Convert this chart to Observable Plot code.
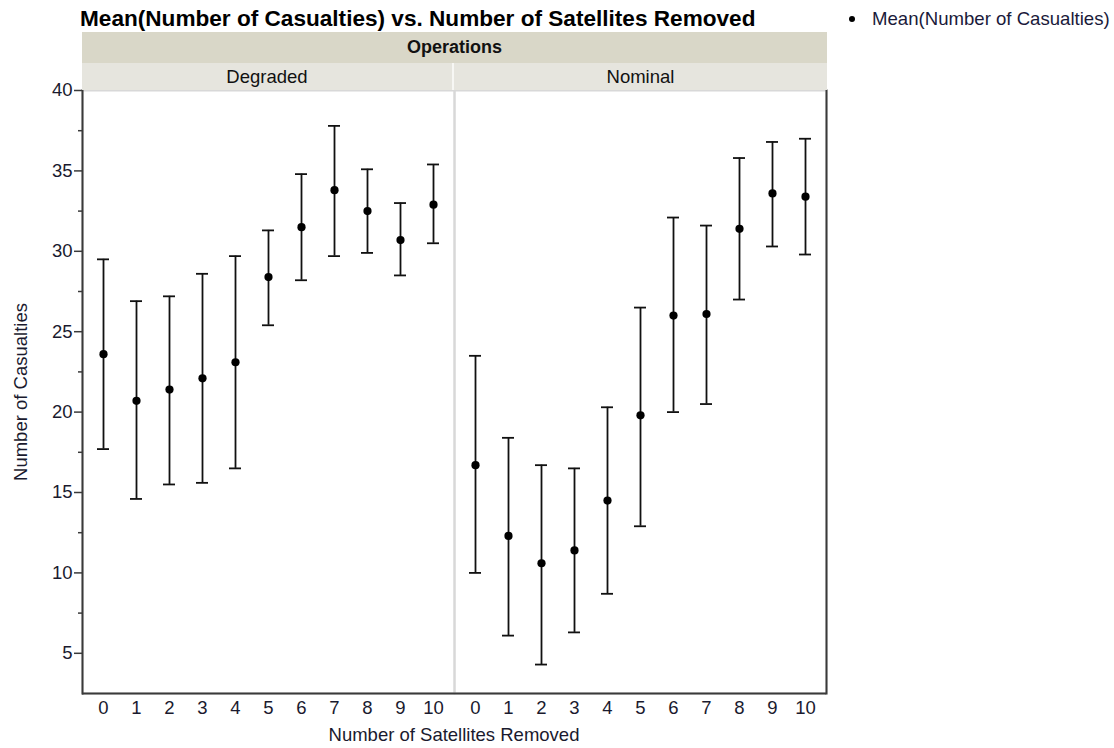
<!DOCTYPE html>
<html>
<head>
<meta charset="utf-8">
<script src="https://cdn.jsdelivr.net/npm/d3@7"></script>
<script src="https://cdn.jsdelivr.net/npm/@observablehq/plot@0.6"></script>
<style>
  html, body { margin: 0; padding: 0; background: #fff; }
  #wrap { position: relative; width: 1114px; height: 748px; overflow: hidden; font-family: "Liberation Sans", Arial, sans-serif; }
  #chart { position: absolute; left: 0; top: 0; }
  .title { position: absolute; left: 80px; top: 7px; font-size: 22.6px; line-height: 23px; font-weight: bold; color: #000; white-space: nowrap; }
  .hdr { position: absolute; text-align: center; color: #111; white-space: nowrap; box-sizing: border-box; }
  .legend { position: absolute; left: 849px; top: 9px; font-size: 18.6px; line-height: 20px; color: #1a1a3a; white-space: nowrap; }
  .legend .dot { display: inline-block; width: 6px; height: 6px; border-radius: 50%; background: #000; margin-right: 17px; vertical-align: middle; position: relative; top: -1px; }
</style>
</head>
<body>
<div id="wrap">
  <div id="chart"></div>
  <div class="title">Mean(Number of Casualties) vs. Number of Satellites Removed</div>
  <div class="legend"><span class="dot"></span>Mean(Number of Casualties)</div>
</div>
<script>
// ---- data ----
const operations = ["Degraded", "Nominal"];
const satellites = [0, 1, 2, 3, 4, 5, 6, 7, 8, 9, 10];
const degradedMean  = [23.6, 20.7, 21.4, 22.1, 23.1, 28.4, 31.5, 33.8, 32.5, 30.7, 32.9];
const degradedUpper = [29.5, 26.9, 27.2, 28.6, 29.7, 31.3, 34.8, 37.8, 35.1, 33.0, 35.4];
const degradedLower = [17.7, 14.6, 15.5, 15.6, 16.5, 25.4, 28.2, 29.7, 29.9, 28.5, 30.5];
const nominalMean  = [16.7, 12.3, 10.6, 11.4, 14.5, 19.8, 26.0, 26.1, 31.4, 33.6, 33.4];
const nominalUpper = [23.5, 18.4, 16.7, 16.5, 20.3, 26.5, 32.1, 31.6, 35.8, 36.8, 37.0];
const nominalLower = [10.0, 6.1, 4.3, 6.3, 8.7, 12.9, 20.0, 20.5, 27.0, 30.3, 29.8];
const yTicks = [5, 10, 15, 20, 25, 30, 35, 40];
const yMinorTicks = [7.5, 12.5, 17.5, 22.5, 27.5, 32.5, 37.5];
const yDomain = [2.5, 40];
const facetTitle = "Operations";
const xTitle = "Number of Satellites Removed";
const yTitle = "Number of Casualties";

// ---- table ----
const rows = [];
satellites.forEach((s, i) => {
  rows.push({ops: "Degraded", sat: s, mean: degradedMean[i], lo: degradedLower[i], hi: degradedUpper[i]});
  rows.push({ops: "Nominal", sat: s, mean: nominalMean[i], lo: nominalLower[i], hi: nominalUpper[i]});
});

const W = 1114, H = 748;
const mL = 82, mR = 288, mT = 90, mB = 55;
const axisColor = "#3a3a3a";
const textColor = "#1a1a2e";
const fs = 18.5;

const plot = Plot.plot({
  width: W,
  height: H,
  marginLeft: mL,
  marginRight: mR,
  marginTop: mT,
  marginBottom: mB,
  style: {fontFamily: "'Liberation Sans', Arial, sans-serif", background: "transparent", color: textColor, fontSize: fs + "px"},
  fx: {domain: operations, padding: 0, axis: null},
  x: {type: "band", domain: satellites, paddingInner: 0.64, paddingOuter: 0.32, axis: null},
  y: {domain: yDomain, axis: null},
  marks: [
    Plot.frame({stroke: "#d8d8d8", strokeWidth: 2}),
    Plot.ruleY([yDomain[0]], {stroke: axisColor, strokeWidth: 2}),
    Plot.frame({anchor: "left", stroke: axisColor, strokeWidth: 2, fx: () => "Degraded"}),
    Plot.frame({anchor: "right", stroke: axisColor, strokeWidth: 2, fx: () => "Nominal"}),
    Plot.axisY({ticks: yTicks, tickSize: 8, tickPadding: 2, fontSize: fs, stroke: axisColor, strokeWidth: 1.5,
      label: yTitle, labelAnchor: "center", labelOffset: 69, labelArrow: "none"}),
    Plot.axisY({ticks: yMinorTicks, tickSize: 4, tickFormat: () => "", label: null, stroke: axisColor, strokeWidth: 1.5}),
    Plot.axisX({tickSize: 0, tickPadding: 7, fontSize: fs, label: null}),
    Plot.ruleX(rows, {fx: "ops", x: "sat", y1: "lo", y2: "hi", stroke: "#111", strokeWidth: 1.8}),
    Plot.tickY(rows, {fx: "ops", x: "sat", y: "hi", stroke: "#111", strokeWidth: 1.8}),
    Plot.tickY(rows, {fx: "ops", x: "sat", y: "lo", stroke: "#111", strokeWidth: 1.8}),
    Plot.dot(rows, {fx: "ops", x: "sat", y: "mean", r: 4.1, fill: "#000", stroke: "none"})
  ]
});
document.getElementById("chart").appendChild(plot);

// facet header bands (HTML, positioned from the layout constants)
const wrap = document.getElementById("wrap");
const innerW = W - mL - mR;
function hdr(text, left, top, width, height, bg, size, weight, borderRight) {
  const d = document.createElement("div");
  d.className = "hdr";
  d.textContent = text;
  Object.assign(d.style, {left: left + "px", top: top + "px", width: width + "px", height: height + "px",
    lineHeight: height + "px", background: bg, fontSize: size + "px", fontWeight: weight,
    borderRight: borderRight || "none"});
  wrap.appendChild(d);
}
hdr(facetTitle, mL, 32, innerW + 1, 31, "#d9d7c8", 18, "bold");
operations.forEach((op, i) => {
  hdr(op, mL + i * innerW / 2, 63, innerW / 2 + (i === 1 ? 1 : 0), 27, "#e6e5de", 18.5, "normal",
      i === 0 ? "2px solid #f7f7f4" : "none");
});
// x axis title
const xt = document.createElement("div");
xt.className = "hdr";
xt.textContent = xTitle;
Object.assign(xt.style, {left: mL + "px", width: innerW + "px", top: "725px", fontSize: fs + "px", lineHeight: "20px", color: textColor});
wrap.appendChild(xt);
</script>
</body>
</html>
